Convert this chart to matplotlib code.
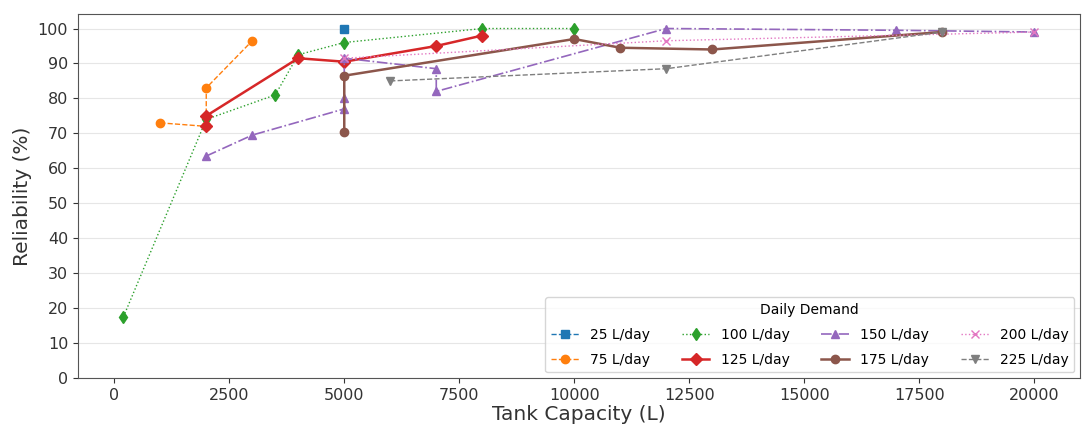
import numpy as np
import matplotlib.pyplot as plt

# tank capacity (L) and reliability (%) per daily demand
cap_25 = [5000]
rel_25 = [100]

cap_75 = [1000, 2000, 2000, 3000]
rel_75 = [73, 72, 83, 96.5]

cap_100 = [200, 2000, 3500, 4000, 5000, 8000, 10000]
rel_100 = [17.5, 74, 81, 92.5, 96, 100, 100]

cap_125 = [2000, 2000, 4000, 5000, 7000, 8000]
rel_125 = [72, 75, 91.5, 90.5, 95, 98]

cap_150 = [2000, 3000, 5000, 5000, 5000, 7000, 7000, 12000, 17000, 20000]
rel_150 = [63.5, 69.5, 77, 80, 91.5, 88.5, 82, 100, 99.5, 99]

cap_175 = [5000, 5000, 10000, 11000, 13000, 18000]
rel_175 = [70.5, 86.5, 97, 94.5, 94, 99]

cap_200 = [5000, 12000, 20000]
rel_200 = [91.5, 96.5, 99]

cap_225 = [6000, 12000, 18000]
rel_225 = [85, 88.5, 99]

labels = ['25 L/day', '75 L/day', '100 L/day', '125 L/day',
          '150 L/day', '175 L/day', '200 L/day', '225 L/day']

series = [
    (cap_25, rel_25, 'tab:blue', 's', '--', 1.0),
    (cap_75, rel_75, 'tab:orange', 'o', '--', 1.0),
    (cap_100, rel_100, 'tab:green', 'd', ':', 1.0),
    (cap_125, rel_125, 'tab:red', 'D', '-', 1.8),
    (cap_150, rel_150, 'tab:purple', '^', '-.', 1.2),
    (cap_175, rel_175, 'tab:brown', 'o', '-', 1.8),
    (cap_200, rel_200, 'tab:pink', 'x', ':', 1.0),
    (cap_225, rel_225, 'tab:gray', 'v', '--', 1.0),
]

fig, ax = plt.subplots(figsize=(10.82, 4.41), dpi=100)

for (x, y, c, m, ls, lw), lab in zip(series, labels):
    ax.plot(x, y, color=c, marker=m, linestyle=ls, linewidth=lw,
            markersize=6, label=lab)

ax.set_ylim(bottom=0)
ax.set_yticks(np.arange(0, 101, 10))
ax.set_xticks(np.arange(0, 20001, 2500))
ax.grid(axis='y', color='#e6e6e6', linewidth=0.8)
ax.set_axisbelow(True)
for s in ax.spines.values():
    s.set_color('#555555')
ax.tick_params(labelsize=11.5, colors='#333333')

ax.set_xlabel('Tank Capacity (L)', fontsize=14.5, color='#333333', labelpad=2)
ax.set_ylabel('Reliability (%)', fontsize=14.5, color='#333333')

ax.legend(title='Daily Demand', loc='lower right', ncol=4, fontsize=10,
          title_fontsize=10, columnspacing=2.3, handlelength=2,
          labelspacing=0.8, borderaxespad=0.4)

plt.subplots_adjust(left=0.072, right=0.998, top=0.968, bottom=0.143)
plt.savefig('out.png', dpi=100)
